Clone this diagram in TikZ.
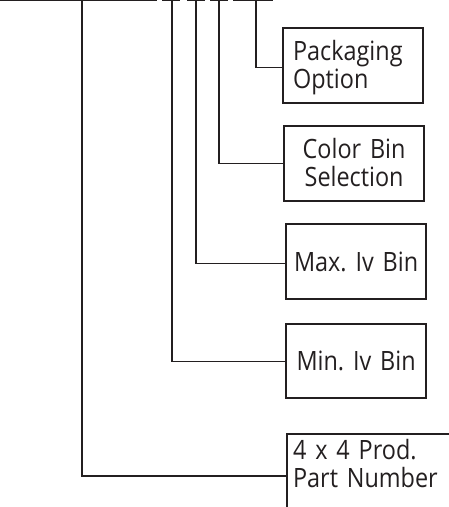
\documentclass[tikz,border=0pt]{standalone}
\usepackage{fontspec}
\setmainfont[FakeStretch=0.88]{Open Sans}
\frenchspacing
\definecolor{ink}{HTML}{231F20}
\begin{document}
\begin{tikzpicture}[x=1pt,y=-1pt,
  box/.style={draw=ink,line width=2.2pt,anchor=north west,inner ysep=0pt,
    font=\fontsize{26.6}{28}\selectfont,text=ink},
  wire/.style={draw=ink,line width=1.1pt}]
\useasboundingbox (0,0) rectangle (449,507);
\clip (0,0) rectangle (449,507);
\node[box,inner xsep=10pt,text width=120pt,align=left,text height=32pt,text depth=43pt] (pk) at (282,27) {Packaging\\Option};
\node[box,inner xsep=4pt,text width=132pt,align=center,text height=32pt,text depth=43pt] (cb) at (283,125) {Color Bin\\Selection};
\node[box,inner xsep=4pt,text width=132pt,align=center,text height=47pt,text depth=28pt] (mx) at (285,223) {Max. Iv Bin};
\node[box,inner xsep=4pt,text width=132pt,align=center,text height=46pt,text depth=28pt] (mn) at (285,323) {Min. Iv Bin};
\node[box,inner xsep=6pt,text width=190pt,align=left,text height=25pt,text depth=90pt] (pn) at (286,433) {4 x 4 Prod.\\Part Number};
\coordinate (a0) at (82,0.5);
\coordinate (a1) at (172,0.5);
\coordinate (a2) at (196,0.5);
\coordinate (a3) at (219,0.5);
\coordinate (a4) at (256,0.5);
\draw[wire] (0,0.5) -- (157,0.5);
\draw[wire] (162,0.5) -- (180,0.5);
\draw[wire] (187,0.5) -- (205,0.5);
\draw[wire] (210,0.5) -- (228,0.5);
\draw[wire] (233,0.5) -- (273,0.5);
\draw[wire] (a0) |- ([yshift=-43pt]pn.north west);
\draw[wire] (a1) |- (mn.west);
\draw[wire] (a2) |- ([yshift=-1.5pt]mx.west);
\draw[wire] (a3) |- (cb.west);
\draw[wire] (a4) |- ([yshift=-2pt]pk.west);
\end{tikzpicture}
\end{document}
